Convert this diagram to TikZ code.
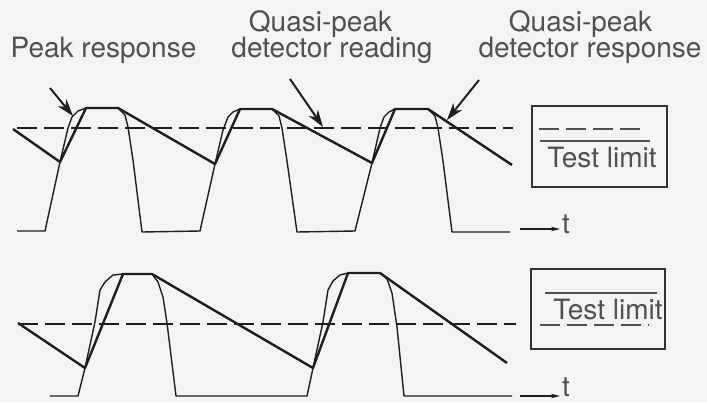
\documentclass[tikz,border=0pt]{standalone}
\usepackage{fontspec}
\setmainfont{TeX Gyre Heros}
\usetikzlibrary{arrows.meta}
\definecolor{bg}{RGB}{244,244,244}
\definecolor{ink}{RGB}{30,30,30}
\definecolor{txt}{RGB}{80,80,80}
\definecolor{boxc}{RGB}{50,50,50}
\begin{document}
\begin{tikzpicture}[x=1pt,y=-1pt,
  lbl/.style={text=txt,font=\fontsize{28}{30}\selectfont,inner sep=0pt,anchor=base},
  sig/.style={draw=ink,line width=1.4pt,line join=round},
  det/.style={draw=ink,line width=2.4pt,line join=round},
  lim/.style={draw=ink,line width=1.4pt,dash pattern=on 20pt off 7pt},
  leglim/.style={draw=txt,line width=1.3pt,dash pattern=on 20pt off 7pt},
  legline/.style={draw=txt,line width=1.3pt},
  callout/.style={draw=ink,line width=2pt,-{Stealth[length=17pt,width=11pt,inset=5pt]}},
  taxis/.style={draw=ink,line width=1.1pt,-{Stealth[length=9pt,width=4.5pt]}},
  legbox/.style={draw=boxc,line width=1.4pt,inner sep=0pt},
]
\fill[bg] (0,0) rectangle (707,402);
\useasboundingbox (0,0) rectangle (707,402);

% ---------- labels ----------
\node[lbl] (peak) at (103.5,57) {Peak response};
\node[lbl] (qr1) at (320.5,31) {Quasi-peak};
\node[lbl] (qr2) at (332,57) {detector reading};
\node[lbl] (qp1) at (580.5,31) {Quasi-peak};
\node[lbl] (qp2) at (590,57) {detector response};

% ---------- callout arrows ----------
\coordinate (pA) at (50,88);  \coordinate (pB) at (73,116);
\coordinate (rA) at (290,79); \coordinate (rB) at (323,127);
\coordinate (sA) at (479,80); \coordinate (sB) at (447,120);
\draw[callout] (pA) -- (pB);
\draw[callout] (rA) -- (rB);
\draw[callout] (sA) -- (sB);

% ---------- top trace ----------
\draw[lim] (17,128) -- (513,128);
\draw[sig] (17,231) -- (45,231) -- (60,162) -- (68,128) -- (72,117) -- (78,111) -- (86,108)
  -- (118,108) -- (125,115) -- (128,127) -- (133,160) -- (142,232)
  -- (200,231) -- (215,164) -- (223,130) -- (228,117) -- (233,112) -- (240,109)
  -- (272,109) -- (279,116) -- (282,128) -- (287,161) -- (297,232)
  -- (355,231) -- (372,163) -- (380,128) -- (384,117) -- (389,112) -- (395,109)
  -- (428,109) -- (435,116) -- (438,128) -- (443,161) -- (452,232) -- (510,232);
\draw[det] (13,129) -- (60,162) -- (86,108) -- (118,108) -- (215,164) -- (240,109)
  -- (272,109) -- (372,163) -- (395,109) -- (428,109) -- (512,165);
\coordinate (t1a) at (520,229);
\draw[taxis] (t1a) -- ++(40,0);
\node[lbl] (t1) at (566,233) {t};

% ---------- top legend ----------
\node[legbox,minimum width=135pt,minimum height=81pt] (box1) at (599.5,146.5) {};
\draw[leglim] (539,129) -- (647,129);
\draw[legline] (540,141) -- (650,141);
\node[lbl] (tl1) at (602,167) {Test limit};

% ---------- bottom trace ----------
\draw[lim] (18,324) -- (516,324);
\draw[sig] (50,396) -- (78,396) -- (85,368) -- (95,322) -- (100,290) -- (105,282) -- (113,275) -- (123,274)
  -- (152,274) -- (158,282) -- (163,297) -- (167,323) -- (176,396)
  -- (307,396) -- (313,368) -- (323,322) -- (328,290) -- (333,281) -- (340,275) -- (348,273)
  -- (380,273) -- (387,279) -- (392,293) -- (397,327) -- (404,396) -- (512,396);
\draw[det] (18,323) -- (85,368) -- (123,274) -- (152,274) -- (313,368) -- (348,273)
  -- (380,273) -- (507,363);
\coordinate (t2a) at (520,396);
\draw[taxis] (t2a) -- ++(40,0);
\node[lbl] (t2) at (566,396) {t};

% ---------- bottom legend ----------
\node[legbox,minimum width=134pt,minimum height=80pt] (box2) at (598,309) {};
\draw[legline] (545,293) -- (657,293);
\draw[leglim] (540,325) -- (649,325);
\node[lbl] (tl2) at (608,319) {Test limit};
\end{tikzpicture}
\end{document}
